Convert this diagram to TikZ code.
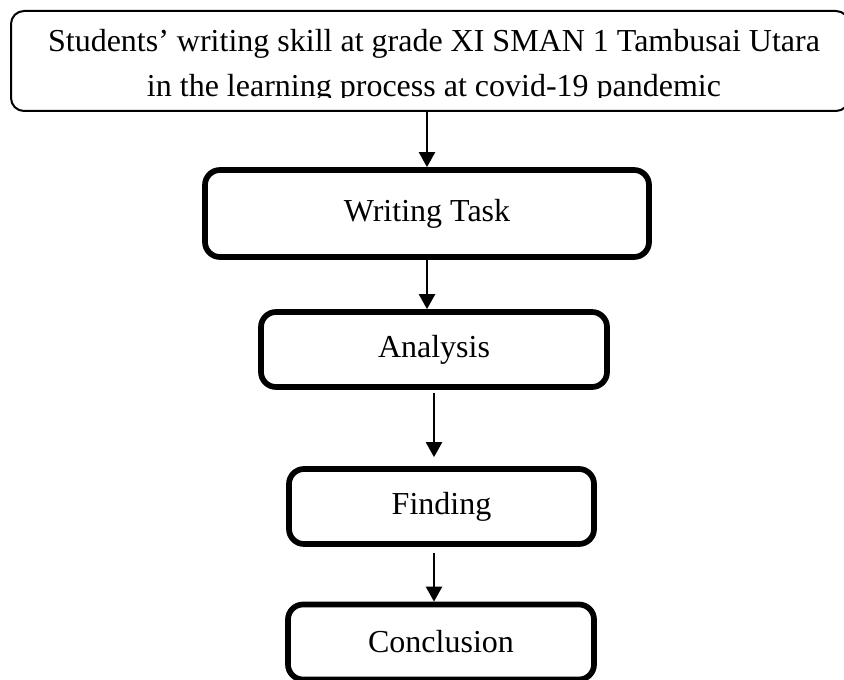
\documentclass[tikz,border=0pt]{standalone}
\usepackage{fontspec}
\setmainfont{Liberation Serif}
\usetikzlibrary{arrows.meta}

\begin{document}
\begin{tikzpicture}[x=0.5pt, y=-0.5pt,
		every node/.style={font=\fontsize{16pt}{18pt}\selectfont},
		topbox/.style={draw, line width=1pt, rounded corners=6.5pt, inner sep=0pt},
		stepbox/.style={draw, line width=2.85pt, rounded corners=7.5pt, inner sep=0pt, minimum height=37.5pt},
		arr/.style={line width=1.1pt, -{Triangle[width=8pt, length=7.5pt]}}]
			% Page frame
			\useasboundingbox (0,0) rectangle (844,679);
			\clip (0,0) rectangle (844,679);

			% Draw top box, its text cut at the lower edge
			\node[topbox, minimum width=419pt, minimum height=50pt] (topic) at (430,61) {};
			\begin{scope}
				\clip (0,0) rectangle (844,97.5);
				\node[anchor=base, inner sep=0pt] (topicA) at (434,52) {Students' writing skill at grade XI SMAN 1 Tambusai Utara};
				\node[anchor=base, inner sep=0pt] (topicB) at (434,97) {in the learning process at covid-19 pandemic};
			\end{scope}

			% Draw steps
			\node[stepbox, minimum width=222pt, minimum height=43.5pt] (task) at (427,213.5) {Writing Task};
			\node[stepbox, minimum width=173pt] (analysis) at (434,349.5) {Analysis};
			\node[stepbox, minimum width=152.5pt] (finding) at (441.5,506.5) {Finding};
			\node[stepbox, minimum width=153pt] (conclusion) at (441,642) {Conclusion};

			% Draw arrows
			\draw[arr] (task.north |- topic.south) -- (task.north);
			\draw[arr] (task.south) -- (task.south |- analysis.north);
			\draw[arr] ([yshift=-1.5pt]analysis.south) -- ([yshift=4.5pt]analysis.south |- finding.north);
			\draw[arr] ([yshift=-3pt]analysis.south |- finding.south) -- (analysis.south |- conclusion.north);
		\end{tikzpicture}
\end{document}
